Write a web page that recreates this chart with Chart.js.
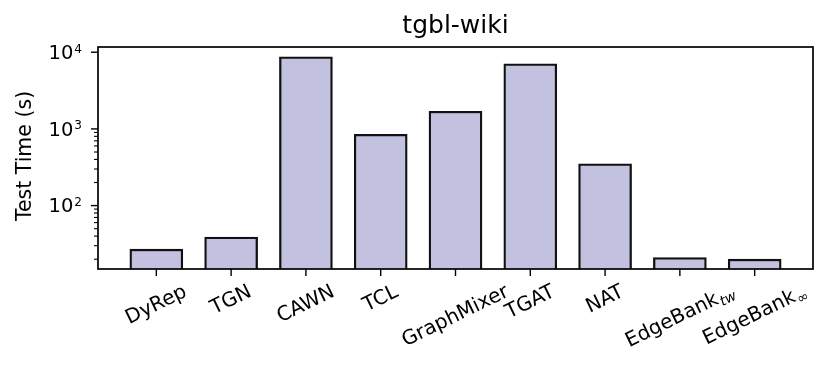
<!DOCTYPE html>
<html>
<head>
<meta charset="utf-8">
<script src="https://cdn.jsdelivr.net/npm/chart.js@4/dist/chart.umd.min.js"></script>
<style>
  html, body { margin: 0; padding: 0; background: #fff; }
  #wrap { width: 830px; height: 375px; }
</style>
</head>
<body>
<div id="wrap"><canvas id="grafico" width="830" height="375"></canvas></div>
<script>
// data
const models = ['DyRep', 'TGN', 'CAWN', 'TCL', 'GraphMixer', 'TGAT', 'NAT', 'EdgeBank_tw', 'EdgeBank_inf'];
const testTime = [27, 39, 8700, 850, 1700, 7050, 350, 21, 20];
// label pieces: [main text, subscript]
const labelParts = [
  ['DyRep', ''], ['TGN', ''], ['CAWN', ''], ['TCL', ''], ['GraphMixer', ''],
  ['TGAT', ''], ['NAT', ''], ['EdgeBank', 'tw'], ['EdgeBank', '\u221E']
];
const yMajor = [100, 1000, 10000];
const yMinor = [20, 30, 40, 50, 60, 70, 80, 90, 200, 300, 400, 500, 600, 700, 800, 900];
const chartTitle = 'tgbl-wiki';
const yTitle = 'Test Time (s)';

const FONT = '"DejaVu Sans", sans-serif';
const YTICK_PX = 19.5;
const XTICK_PX = 20;
const ANG = 26 * Math.PI / 180;

const ejes = {
  id: 'ejes',
  afterDraw(chart) {
    const ctx = chart.ctx;
    const a = chart.chartArea;
    const xs = chart.scales.x, ys = chart.scales.y;
    ctx.save();
    ctx.strokeStyle = '#000';
    ctx.fillStyle = '#000';

    // frame
    ctx.lineWidth = 1.7;
    ctx.strokeRect(a.left, a.top, a.right - a.left, a.bottom - a.top);

    // y ticks
    ctx.lineWidth = 1.4;
    yMajor.forEach(v => {
      const py = ys.getPixelForValue(v);
      ctx.beginPath(); ctx.moveTo(a.left - 7, py); ctx.lineTo(a.left, py); ctx.stroke();
    });
    ctx.lineWidth = 1.1;
    yMinor.forEach(v => {
      const py = ys.getPixelForValue(v);
      if (py < a.top || py > a.bottom) return;
      ctx.beginPath(); ctx.moveTo(a.left - 4, py); ctx.lineTo(a.left, py); ctx.stroke();
    });

    // y labels 10^n
    const supPx = YTICK_PX * 0.62;
    yMajor.forEach(v => {
      const py = ys.getPixelForValue(v);
      const exp = String(Math.round(Math.log10(v)));
      ctx.font = supPx + 'px ' + FONT;
      const we = ctx.measureText(exp).width;
      ctx.font = YTICK_PX + 'px ' + FONT;
      const wb = ctx.measureText('10').width;
      const right = a.left - 16;
      ctx.textBaseline = 'alphabetic';
      ctx.textAlign = 'left';
      const base = py + 6.8;
      ctx.fillText('10', right - we - wb - 1, base);
      ctx.font = supPx + 'px ' + FONT;
      ctx.fillText(exp, right - we, base - 6.3);
    });

    // x ticks + rotated labels
    ctx.lineWidth = 1.4;
    labelParts.forEach((p, i) => {
      const px = xs.getPixelForValue(i);
      ctx.beginPath(); ctx.moveTo(px, a.bottom); ctx.lineTo(px, a.bottom + 7); ctx.stroke();

      const mainFont = XTICK_PX + 'px ' + FONT;
      const subFont = 'italic ' + (XTICK_PX * 0.7) + 'px ' + FONT;
      ctx.font = mainFont;
      const w1 = ctx.measureText(p[0]).width;
      ctx.font = subFont;
      const w2 = p[1] ? ctx.measureText(p[1]).width : 0;
      const w = w1 + w2;
      const asc = 0.76 * XTICK_PX, desc = 0.24 * XTICK_PX;
      const s = Math.sin(ANG), c = Math.cos(ANG);
      const minX = -asc * s, maxX = w * c + desc * s;
      const minY = -w * s - asc * c;
      const top = a.bottom + 13;
      const ox = px - (minX + maxX) / 2;
      const oy = top - minY;
      ctx.save();
      ctx.translate(ox, oy);
      ctx.rotate(-ANG);
      ctx.textAlign = 'left';
      ctx.textBaseline = 'alphabetic';
      ctx.font = mainFont;
      ctx.fillText(p[0], 0, 0);
      if (p[1]) {
        ctx.font = subFont;
        ctx.fillText(p[1], w1 + 1, 0.2 * XTICK_PX);
      }
      ctx.restore();
    });

    // title
    ctx.font = '25px ' + FONT;
    ctx.textAlign = 'center';
    ctx.textBaseline = 'alphabetic';
    ctx.fillText(chartTitle, (a.left + a.right) / 2, 33);

    // y axis title
    ctx.save();
    ctx.translate(30.5, (a.top + a.bottom) / 2 - 2);
    ctx.rotate(-Math.PI / 2);
    ctx.font = '20.5px ' + FONT;
    ctx.textAlign = 'center';
    ctx.fillText(yTitle, 0, 0);
    ctx.restore();

    ctx.restore();
  }
};

const ctx = document.getElementById('grafico');
new Chart(ctx, {
  type: 'bar',
  data: {
    labels: models,
    datasets: [{
      label: 'Test Time (s)',
      data: testTime.map((v, i) => ({ x: i, y: v })),
      backgroundColor: '#c2c2e0',
      borderColor: '#111111',
      borderWidth: 2.3,
      borderSkipped: 'start',
      barThickness: 53
    }]
  },
  options: {
    responsive: false,
    animation: false,
    devicePixelRatio: 1,
    layout: { padding: { left: 98, right: 17, top: 47, bottom: 106 } },
    plugins: { legend: { display: false }, title: { display: false }, tooltip: { enabled: false } },
    scales: {
      x: { type: 'linear', min: -0.78, max: 8.78, display: false, offset: false },
      y: { type: 'logarithmic', min: 14.9, max: 11700, display: false }
    }
  },
  plugins: [ejes]
});
</script>
</body>
</html>
